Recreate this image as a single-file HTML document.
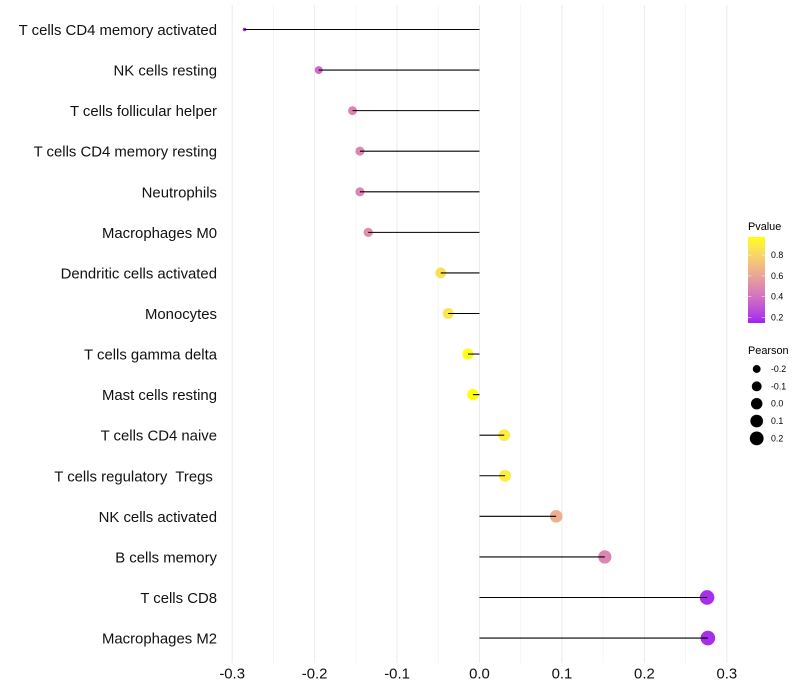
<!DOCTYPE html>
<html>
<head>
<meta charset="utf-8">
<style>
html,body{margin:0;padding:0;background:#fff;}
svg{display:block;font-family:"Liberation Sans",sans-serif;}
</style>
</head>
<body>
<svg id="chart" width="800" height="700" viewBox="0 0 800 700" xmlns="http://www.w3.org/2000/svg">
<g id="grid"></g>
<g id="rows"></g>
<g id="ylabels"></g>
<g id="xlabels"></g>
<g id="legend-p">
<defs><linearGradient id="pgrad" x1="0" y1="1" x2="0" y2="0"></linearGradient></defs>
<text x="748" y="230" font-size="10.9" fill="#000">Pvalue</text>
<rect x="748" y="237" width="17" height="86" fill="url(#pgrad)"></rect>
</g>
<g id="legend-s">
<text x="748" y="354" font-size="10.9" fill="#000">Pearson</text>
</g>
</svg>
<script>
const categories = ["T cells CD4 memory activated","NK cells resting","T cells follicular helper","T cells CD4 memory resting","Neutrophils","Macrophages M0","Dendritic cells activated","Monocytes","T cells gamma delta","Mast cells resting","T cells CD4 naive","T cells regulatory  Tregs ","NK cells activated","B cells memory","T cells CD8","Macrophages M2"];
const pearson = [-0.285,-0.195,-0.154,-0.145,-0.145,-0.135,-0.047,-0.038,-0.014,-0.008,0.030,0.031,0.093,0.152,0.276,0.277];
const pvalues = [0.13,0.37,0.46,0.47,0.47,0.50,0.85,0.87,0.97,0.98,0.90,0.90,0.64,0.47,0.16,0.16];
const xTicks = [-0.3,-0.2,-0.1,0.0,0.1,0.2,0.3];
const xMinorTicks = [-0.25,-0.15,-0.05,0.05,0.15,0.25];
const pvalueTicks = [0.2,0.4,0.6,0.8];
const pearsonLegend = [-0.2,-0.1,0.0,0.1,0.2];

const NS = "http://www.w3.org/2000/svg";
function mk(parent, tag, attrs, txt){
  const e = document.createElementNS(NS, tag);
  for (const k in attrs) e.setAttribute(k, attrs[k]);
  if (txt !== undefined) e.textContent = txt;
  parent.appendChild(e);
  return e;
}
const xScale = v => 479.5 + v * 824.5;
const yScale = i => 29.5 + i * 40.57;
const pvalY = p => 317.5 - (p - 0.2) * 104;
const sizeMin = Math.min(...pearson), sizeMax = Math.max(...pearson);
const rScale = v => {
  const t = Math.max(0, Math.min(1, (v - sizeMin) / (sizeMax - sizeMin)));
  return 1.8 + 5.5 * Math.sqrt(t);
};
// Lab interpolation between purple and yellow
function toLab(c){
  const f = u => { u/=255; return u>0.04045?Math.pow((u+0.055)/1.055,2.4):u/12.92; };
  const r=f(c[0]),g=f(c[1]),b=f(c[2]);
  const X=(0.4124*r+0.3576*g+0.1805*b)/0.95047,Y=0.2126*r+0.7152*g+0.0722*b,Z=(0.0193*r+0.1192*g+0.9505*b)/1.08883;
  const h=t=>t>0.008856?Math.cbrt(t):7.787*t+16/116;
  return [116*h(Y)-16,500*(h(X)-h(Y)),200*(h(Y)-h(Z))];
}
function fromLab(l){
  const fy=(l[0]+16)/116,fx=fy+l[1]/500,fz=fy-l[2]/200;
  const g=t=>t*t*t>0.008856?t*t*t:(t-16/116)/7.787;
  const X=g(fx)*0.95047,Y=g(fy),Z=g(fz)*1.08883;
  const R=3.2406*X-1.5372*Y-0.4986*Z,G=-0.9689*X+1.8758*Y+0.0415*Z,B=0.0557*X-0.2040*Y+1.0570*Z;
  const d=u=>{u=Math.max(0,Math.min(1,u));return Math.round(255*(u>0.0031308?1.055*Math.pow(u,1/2.4)-0.055:12.92*u));};
  return "rgb("+d(R)+","+d(G)+","+d(B)+")";
}
const labLow = toLab([160,32,240]), labHigh = toLab([255,255,0]);
const colorAt = t => fromLab(labLow.map((v,i)=>v+(labHigh[i]-v)*Math.max(0,Math.min(1,t))));
const pMin = Math.min(...pvalues), pMax = Math.max(...pvalues);
const pColor = p => colorAt((p - pMin) / (pMax - pMin));

const grid = document.getElementById("grid");
xMinorTicks.forEach(v => {
  const l = mk(grid, "line", {x1:xScale(v),x2:xScale(v),y1:5,y2:663,stroke:"#f2f2f2","stroke-width":0.8});
  
  
});
xTicks.forEach(v => {
  const l = mk(grid, "line", {x1:xScale(v),x2:xScale(v),y1:5,y2:663,stroke:"#ebebeb","stroke-width":1});
  
  
});

const rows = document.getElementById("rows");
categories.forEach((c, i) => {
  const dot = mk(rows, "circle", {cx:xScale(pearson[i]),cy:yScale(i),r:rScale(pearson[i]),fill:pColor(pvalues[i])});
  
  
  const stem = mk(rows, "line", {x1:xScale(0),x2:xScale(pearson[i]),y1:yScale(i),y2:yScale(i),stroke:"#000","stroke-width":1.07});
  
  
});

const yl = document.getElementById("ylabels");
categories.forEach((c, i) => {
  const t = mk(yl, "text", {x:217,y:yScale(i)+5.5,"text-anchor":"end","font-size":14.9,fill:"#111","xml:space":"preserve",style:"white-space:pre"}, c);
  
  
});

const xl = document.getElementById("xlabels");
xTicks.forEach(v => {
  const t = mk(xl, "text", {x:xScale(v),y:678.5,"text-anchor":"middle","font-size":14.9,fill:"#111"}, v.toFixed(1));
  
  
});

const grad = document.getElementById("pgrad");
for (let k = 0; k <= 20; k++) {
  const s = mk(grad, "stop", {offset:(k/20),"stop-color":colorAt(k/20)});
  
  
}
const lp = document.getElementById("legend-p");
pvalueTicks.forEach(p => {
  const y = pvalY(p);
  const a = mk(lp, "line", {x1:748,x2:751.4,y1:y,y2:y,stroke:"#fff","stroke-width":0.6,"stroke-opacity":0.8});
  
  
  const b = mk(lp, "line", {x1:761.6,x2:765,y1:y,y2:y,stroke:"#fff","stroke-width":0.6,"stroke-opacity":0.8});
  
  
  const t = mk(lp, "text", {x:771,y:y+3,"font-size":8.8,fill:"#000"}, p.toFixed(1));
  
  
});
const ls = document.getElementById("legend-s");
pearsonLegend.forEach((v, i) => {
  const y = 369 + i * 17.35;
  const c = mk(ls, "circle", {cx:756.7,cy:y,r:rScale(v),fill:"#000"});
  
  
  const t = mk(ls, "text", {x:771,y:y+3,"font-size":8.8,fill:"#000"}, v.toFixed(1));
  
  
});
</script>
</body>
</html>
